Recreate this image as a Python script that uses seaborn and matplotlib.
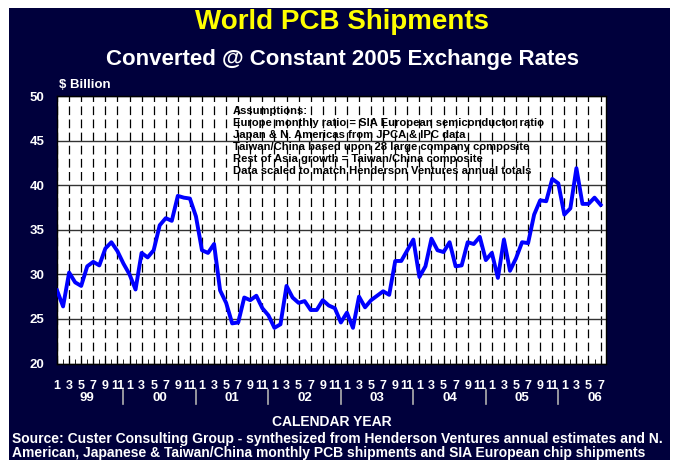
import numpy as np
import seaborn as sns
import matplotlib.pyplot as plt
from matplotlib.patches import Rectangle

# monthly world PCB shipments, Jan 1999 - Jul 2006 ($ billion)
shipments = [
    28.2, 26.4, 30.2, 29.1, 28.7, 30.9, 31.4, 31.0, 32.9, 33.6, 32.6, 31.2,
    30.0, 28.3, 32.4, 31.9, 32.7, 35.5, 36.3, 36.0, 38.8, 38.6, 38.5, 36.5,
    32.7, 32.4, 33.4, 28.2, 26.8, 24.5, 24.6, 27.4, 27.1, 27.6, 26.2, 25.4,
    24.0, 24.4, 28.7, 27.4, 26.8, 27.0, 26.0, 26.0, 27.1, 26.5, 26.2, 24.6,
    25.7, 24.0, 27.5, 26.3, 27.1, 27.6, 28.1, 27.7, 31.5, 31.5, 32.7, 33.9,
    29.7, 30.9, 34.0, 32.7, 32.5, 33.6, 30.9, 31.0, 33.6, 33.4, 34.2, 31.6,
    32.4, 29.6, 33.9, 30.4, 31.8, 33.6, 33.5, 36.7, 38.3, 38.2, 40.7, 40.2,
    36.7, 37.4, 41.9, 37.9, 37.9, 38.6, 37.8,
]
month_labels = ["1", "3", "5", "7", "9", "11"]
year_labels = ["99", "00", "01", "02", "03", "04", "05", "06"]
y_ticks = [20, 25, 30, 35, 40, 45, 50]

assumptions = [
    "Assumptions:",
    "Europe monthly ratio = SIA European semiconductor ratio",
    "Japan & N. Americas from JPCA & IPC data",
    "Taiwan/China based upon 28 large company composite",
    "Rest of Asia growth = Taiwan/China composite",
    "Data scaled to match Henderson Ventures annual totals",
]
source = ("Source: Custer Consulting Group - synthesized from Henderson Ventures annual estimates and N.\n"
          "American, Japanese & Taiwan/China monthly PCB shipments and SIA European chip shipments")

NAVY = "#00003c"
plt.rcParams["font.family"] = ["Liberation Sans", "DejaVu Sans"]
plt.rcParams["font.weight"] = "bold"

fig = plt.figure(figsize=(6.73, 4.62), dpi=100)
fig.patch.set_facecolor("white")
fig.patches.append(Rectangle((9 / 673, 2 / 462), 661 / 673, 452 / 462,
                             transform=fig.transFigure, facecolor=NAVY,
                             edgecolor="none", zorder=-10))

ax = fig.add_axes([0.0843, 0.2132, 0.8157, 0.579])
ax.set_facecolor("white")

n = len(shipments)
months = np.arange(n)
sns.lineplot(x=months, y=shipments, ax=ax, color="#0000ff", linewidth=2.8, zorder=5)

ax.set_xlim(-0.05, n - 0.15)
ax.set_ylim(20, 50)
ax.set_yticks(y_ticks)
ax.set_yticklabels([str(v) for v in y_ticks], color="white", fontsize=9.5, fontweight="bold")

major = np.arange(0, n, 2)
ax.set_xticks(major)
ax.set_xticklabels([month_labels[(i % 12) // 2] for i in major],
                   color="white", fontsize=9, fontweight="bold")
ax.set_xticks(months, minor=True)
ax.tick_params(axis="x", which="both", direction="in", length=3.5, color="black", pad=12)
ax.tick_params(axis="y", length=0, pad=9)

ax.grid(axis="x", which="major", color="black", linewidth=0.9, linestyle=(0, (7, 3.5)))
ax.grid(axis="y", color="#333333", linewidth=1.0, linestyle="-")
ax.set_axisbelow(True)
for s in ax.spines.values():
    s.set_color("black")
    s.set_linewidth(1.0)

xt = ax.get_xaxis_transform()
for k, yl in enumerate(year_labels):
    ax.text(12 * k + 5, -0.128, yl, transform=xt, ha="center", va="center",
            color="white", fontsize=9.5, fontweight="bold")
    if k > 0:
        ax.plot([12 * k - 1, 12 * k - 1], [-0.10, -0.152], transform=xt,
                color="#b0b0b0", linewidth=1.2, clip_on=False)

ax.text(0.005, 1.04, "$ Billion", transform=ax.transAxes, color="white",
        fontsize=9.5, fontweight="bold", ha="left", va="center")

for i, line in enumerate(assumptions):
    fig.text(233 / 673, 1 - (111 + 12.1 * i) / 462, line, color="black",
             fontsize=8.1, fontweight="bold", ha="left", va="center")

fig.text(342 / 673, 1 - 22 / 462, "World PCB Shipments", color="#ffff00",
         fontsize=20, fontweight="bold", ha="center", va="center")
fig.text(342 / 673, 1 - 60 / 462, "Converted @ Constant 2005 Exchange Rates",
         color="white", fontsize=16, fontweight="bold", ha="center", va="center")
fig.text(332 / 673, 1 - 422 / 462, "CALENDAR YEAR", color="white",
         fontsize=10, fontweight="bold", ha="center", va="center")
fig.text(12 / 673, 1 - 445.5 / 462, source, color="white", fontsize=10,
         fontweight="bold", ha="left", va="center", linespacing=1.0)

fig.savefig("out.png", dpi=100)
